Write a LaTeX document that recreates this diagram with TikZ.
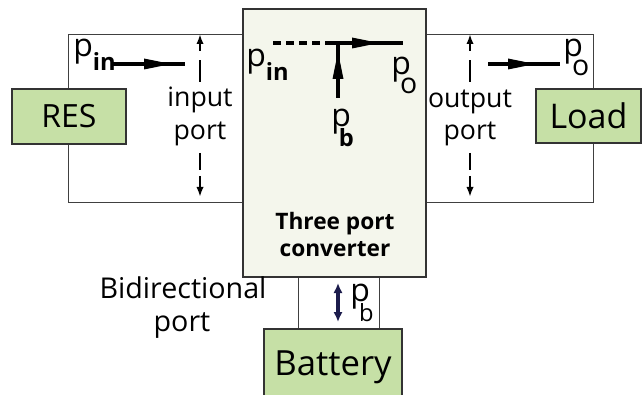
\documentclass[tikz,border=0pt]{standalone}
\usepackage{fontspec}
\setmainfont{Open Sans}
\usetikzlibrary{arrows.meta}
\definecolor{BlockClr}{HTML}{C6E0A6}
\definecolor{ConvClr}{HTML}{F4F6EC}
\definecolor{BiClr}{HTML}{1C1C4C}

% p with a lowered subscript: kern, drop, subscript
\newcommand{\psub}[3]{p\kern#1\raisebox{#2}{\scalebox{0.74}{#3}}}

\tikzset{
  blockbox/.style={draw=black!80,fill=BlockClr,line width=0.8pt,inner sep=0pt,
    font=\fontsize{24}{27}\selectfont},
  wire/.style={draw=black!75,line width=0.6pt},
  flow/.style={line width=2.4pt},
  flowhead/.pic={\fill (0,0) -- (-27,-5.5) -- (-27,5.5) -- cycle;},
  portarrow/.style={line width=1.5pt,-{Latex[length=7.5pt,width=5.5pt]}},
  lbl/.style={font=\fontsize{20}{24}\selectfont,inner sep=0pt,anchor=base},
  plbl/.style={font=\fontsize{24}{27}\selectfont,inner sep=0pt,anchor=base west}
}

\begin{document}
\begin{tikzpicture}[x=0.75pt,y=-0.75pt]
\useasboundingbox (0,0) rectangle (642,395);
\clip (0,0) rectangle (642,395);

% corners of the two port loops
\coordinate (inTL) at (68,34);
\coordinate (inBL) at (68,202);
\coordinate (outTR) at (593,34);
\coordinate (outBR) at (593,202);

\node[draw=black!80,fill=ConvClr,line width=0.8pt,minimum width=137.25pt,
  minimum height=201pt,inner sep=0pt] (conv) at (334.5,143) {};
\node[blockbox,minimum width=85.5pt,minimum height=41.25pt] (res) at (69,116.5) {RES};
\node[blockbox,minimum width=78.75pt,minimum height=40.5pt,font=\fontsize{25.5}{28}\selectfont] (load) at (588.5,116) {Load};
\node[blockbox,minimum width=103.5pt,minimum height=64.5pt,text depth=14pt,font=\fontsize{26}{28}\selectfont] (bat) at (333,372) {Battery};

% loops
\draw[wire] (conv.west |- inTL) -- (inTL) -- (inTL |- res.north);
\draw[wire] (inBL |- res.south) -- (inBL) -- (conv.west |- inBL);
\draw[wire] (conv.east |- outTR) -- (outTR) -- (outTR |- load.north);
\draw[wire] (outBR |- load.south) -- (outBR) -- (conv.east |- outBR);
\draw[wire] (298,0 |- conv.south) -- (298,0 |- bat.north);
\draw[wire] (379,0 |- conv.south) -- (379,0 |- bat.north);

% input side
\node[plbl] (pin) at (73,57) {\psub{0pt}{-10pt}{\textbf{in}}};
\coordinate (pinA) at (113,64);
\coordinate (pinH) at (171,64);
\coordinate (pinB) at (185,64);
\draw[flow] (pinA) -- (pinB);
\pic at (pinH) {flowhead};
\node[lbl] (inlbl) at (200,107) {input};
\node[lbl] (inport) at (200,140) {port};
\draw[portarrow,dash pattern=on 16.5pt off 7pt] (200,82) -- (200,34);
\draw[portarrow,dash pattern=on 12.75pt off 4.5pt] (200,153) -- (200,197);

% output side
\coordinate (poA) at (488,64);
\coordinate (poH) at (535,64);
\coordinate (poB) at (560,64);
\draw[flow] (poA) -- (poB);
\pic at (poH) {flowhead};
\node[plbl] (po) at (563,57) {\psub{-8pt}{-14pt}{\scalebox{1.2}{o}}};
\node[lbl] (outlbl) at (470,108) {output};
\node[lbl] (outport) at (470,140) {port};
\draw[portarrow,dash pattern=on 16.5pt off 7pt] (470,82) -- (470,34);
\draw[portarrow,dash pattern=on 12.75pt off 4.5pt] (470,153) -- (470,197);

% inside the converter
\coordinate (cvA) at (273,43);
\coordinate (cvM) at (332,43);
\coordinate (cvH) at (379,43);
\coordinate (cvB) at (403,43);
\coordinate (cvU) at (338,98);
\coordinate (cvV) at (338,52);
\draw[line width=2.4pt,dash pattern=on 6pt off 3.75pt] (cvA) -- (cvM);
\draw[flow] (cvM) -- (cvB);
\pic at (cvH) {flowhead};
\draw[flow] (cvU) -- (cvU |- cvB);
\pic[rotate=90] at (cvV) {flowhead};
\node[plbl] (pinc) at (246,67) {\psub{0pt}{-10pt}{\textbf{in}}};
\node[plbl] (poc) at (391,75) {\psub{-8pt}{-14pt}{\scalebox{1.2}{o}}};
\node[plbl] (pbc) at (331,127) {\psub{-9pt}{-15pt}{\textbf{b}}};
\node[font=\bfseries\fontsize{17}{20}\selectfont,inner sep=0pt,anchor=base] (three) at (335,230) {Three port};
\node[font=\bfseries\fontsize{17}{20}\selectfont,inner sep=0pt,anchor=base] (convlbl) at (335,257) {converter};

% battery port
\coordinate (biT) at (338,283);
\coordinate (biB) at (338,322);
\draw[BiClr,line width=2.3pt,{Latex[length=7.5pt,width=7pt]}-{Latex[length=7.5pt,width=7pt]}] (biT) -- (biB);
\node[plbl] (pb) at (350,301) {\psub{-8pt}{-15pt}{b}};
\node[lbl,font=\fontsize{21.5}{24}\selectfont] (bidir) at (183,298) {Bidirectional};
\node[lbl,font=\fontsize{21.5}{24}\selectfont] (bport) at (182,331) {port};
\end{tikzpicture}
\end{document}
